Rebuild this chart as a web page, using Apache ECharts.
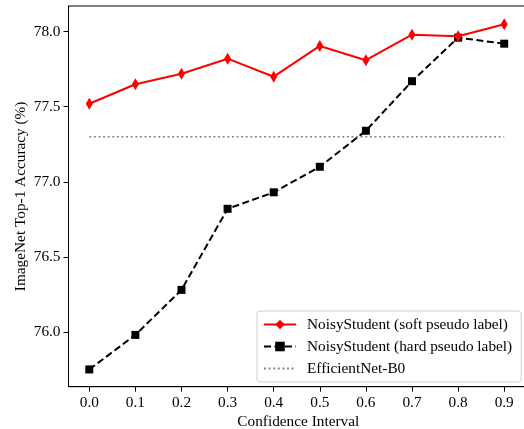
<!DOCTYPE html>
<html>
<head>
<meta charset="utf-8">
<script src="https://cdn.jsdelivr.net/npm/echarts@6/dist/echarts.min.js"></script>
<style>
  html, body { margin: 0; padding: 0; background: #fff; }
  #chart { width: 524px; height: 429px; }
</style>
</head>
<body>
<div id="chart"></div>
<script>
// confidence interval thresholds
const confidence = [0.0, 0.1, 0.2, 0.3, 0.4, 0.5, 0.6, 0.7, 0.8, 0.9];
// top-1 accuracy, soft pseudo label
const softAcc = [77.52, 77.65, 77.72, 77.82, 77.70, 77.905, 77.81, 77.98, 77.97, 78.05];
// top-1 accuracy, hard pseudo label
const hardAcc = [75.75, 75.98, 76.28, 76.82, 76.93, 77.10, 77.34, 77.67, 77.96, 77.92];
// EfficientNet-B0 baseline
const baselineAcc = 77.30;
const yTicks = [76.0, 76.5, 77.0, 77.5, 78.0];

const font = 'Liberation Serif';
const chart = echarts.init(document.getElementById('chart'));

const pairs = (ys) => confidence.map((x, i) => [x, ys[i]]);

chart.setOption({
  animation: false,
  textStyle: { fontFamily: font, color: '#000' },
  grid: {
    left: 68.5, right: -4, top: 6, bottom: 42.3,
    outerBoundsMode: 'none',
    containLabel: false,
    show: true, borderColor: '#000', borderWidth: 1
  },
  xAxis: {
    type: 'value',
    min: -0.0451, max: 0.9516,
    name: 'Confidence Interval',
    nameLocation: 'middle',
    nameGap: 28,
    nameMoveOverlap: false,
    nameTextStyle: { fontFamily: font, fontSize: 15.3, color: '#000' },
    splitLine: { show: false },
    axisLine: { onZero: false, lineStyle: { color: '#000', width: 1 } },
    axisTick: { show: true, length: 5, customValues: confidence, lineStyle: { color: '#000' } },
    axisLabel: {
      customValues: confidence,
      formatter: (v) => v.toFixed(1),
      fontFamily: font, fontSize: 15.3, color: '#000', margin: 9
    }
  },
  yAxis: {
    type: 'value',
    min: 75.635, max: 78.171,
    name: 'ImageNet Top-1 Accuracy (%)',
    nameLocation: 'middle',
    nameGap: 40,
    nameMoveOverlap: false,
    nameTextStyle: { fontFamily: font, fontSize: 15.3, color: '#000' },
    splitLine: { show: false },
    axisLine: { show: true, onZero: false, lineStyle: { color: '#000', width: 1 } },
    axisTick: { show: true, length: 5, customValues: yTicks, lineStyle: { color: '#000' } },
    axisLabel: {
      customValues: yTicks,
      formatter: (v) => v.toFixed(1),
      fontFamily: font, fontSize: 15.3, color: '#000', margin: 8
    }
  },
  legend: {
    left: 257, top: 311,
    orient: 'vertical',
    itemWidth: 32, itemHeight: 12, itemGap: 7,
    padding: [6, 9, 6, 6],
    borderColor: '#d0d0d0', borderWidth: 1, borderRadius: 3,
    backgroundColor: 'rgba(255,255,255,0.8)',
    textStyle: { fontFamily: font, fontSize: 15.3, color: '#000', padding: [0, 0, 0, 6] },
    data: [
      { name: 'NoisyStudent (soft pseudo label)' },
      { name: 'NoisyStudent (hard pseudo label)' },
      { name: 'EfficientNet-B0', itemStyle: { opacity: 0 } }
    ]
  },
  series: [
    {
      name: 'EfficientNet-B0',
      type: 'line',
      data: [[confidence[0], baselineAcc], [confidence[confidence.length - 1], baselineAcc]],
      showSymbol: false,
      symbol: 'none',
      lineStyle: { color: '#77889a', width: 1.5, type: [2, 2.6] },
      itemStyle: { color: '#77889a' },
      z: 1
    },
    {
      name: 'NoisyStudent (hard pseudo label)',
      type: 'line',
      data: pairs(hardAcc),
      symbol: 'rect',
      symbolSize: 8,
      lineStyle: { color: '#000', width: 2, type: [7, 3.5] },
      itemStyle: { color: '#000' },
      z: 2
    },
    {
      name: 'NoisyStudent (soft pseudo label)',
      type: 'line',
      data: pairs(softAcc),
      symbol: 'diamond',
      symbolSize: [7, 12],
      lineStyle: { color: '#ff0000', width: 2 },
      itemStyle: { color: '#ff0000' },
      z: 3
    }
  ]
});
</script>
</body>
</html>
